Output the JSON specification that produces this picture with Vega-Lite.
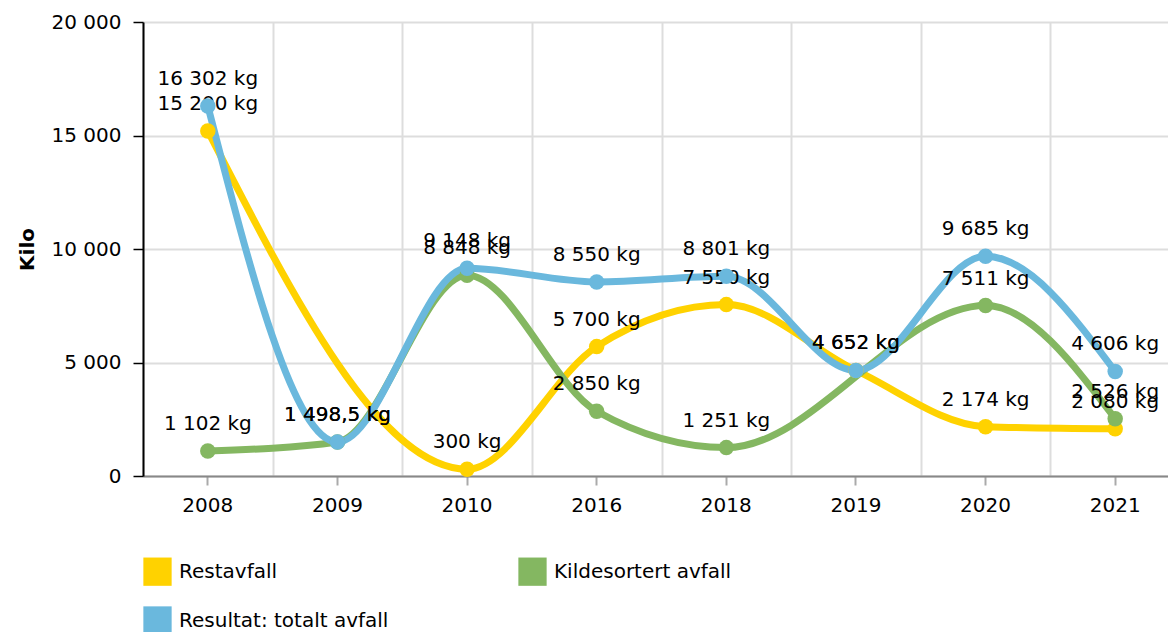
{
  "$schema": "https://vega.github.io/schema/vega-lite/v6.json",
  "width": 1025,
  "height": 454,
  "autosize": {"type": "none"},
  "padding": {"left": 143, "top": 22, "right": 0, "bottom": 156},
  "background": "white",
  "config": {"font": "DejaVu Sans", "view": {"stroke": null}},
  "data": {
    "values": [
      {"year": "2008", "serie": "Restavfall", "value": 15200, "label": "15 200 kg"},
      {"year": "2010", "serie": "Restavfall", "value": 300, "label": "300 kg"},
      {"year": "2016", "serie": "Restavfall", "value": 5700, "label": "5 700 kg"},
      {"year": "2018", "serie": "Restavfall", "value": 7550, "label": "7 550 kg"},
      {"year": "2019", "serie": "Restavfall", "value": 4652, "label": "4 652 kg"},
      {"year": "2020", "serie": "Restavfall", "value": 2174, "label": "2 174 kg"},
      {"year": "2021", "serie": "Restavfall", "value": 2080, "label": "2 080 kg"},
      {"year": "2008", "serie": "Kildesortert avfall", "value": 1102, "label": "1 102 kg"},
      {"year": "2009", "serie": "Kildesortert avfall", "value": 1498.5, "label": "1 498,5 kg"},
      {"year": "2010", "serie": "Kildesortert avfall", "value": 8848, "label": "8 848 kg"},
      {"year": "2016", "serie": "Kildesortert avfall", "value": 2850, "label": "2 850 kg"},
      {"year": "2018", "serie": "Kildesortert avfall", "value": 1251, "label": "1 251 kg"},
      {"year": "2020", "serie": "Kildesortert avfall", "value": 7511, "label": "7 511 kg"},
      {"year": "2021", "serie": "Kildesortert avfall", "value": 2526, "label": "2 526 kg"},
      {"year": "2008", "serie": "Resultat: totalt avfall", "value": 16302, "label": "16 302 kg"},
      {"year": "2009", "serie": "Resultat: totalt avfall", "value": 1498.5, "label": "1 498,5 kg"},
      {"year": "2010", "serie": "Resultat: totalt avfall", "value": 9148, "label": "9 148 kg"},
      {"year": "2016", "serie": "Resultat: totalt avfall", "value": 8550, "label": "8 550 kg"},
      {"year": "2018", "serie": "Resultat: totalt avfall", "value": 8801, "label": "8 801 kg"},
      {"year": "2019", "serie": "Resultat: totalt avfall", "value": 4652, "label": "4 652 kg"},
      {"year": "2020", "serie": "Resultat: totalt avfall", "value": 9685, "label": "9 685 kg"},
      {"year": "2021", "serie": "Resultat: totalt avfall", "value": 4606, "label": "4 606 kg"}
    ]
  },
  "resolve": {"axis": {"x": "independent"}},
  "encoding": {
    "y": {
      "field": "value", "type": "quantitative",
      "scale": {"domain": [0, 20000]},
      "axis": {
        "values": [0, 5000, 10000, 15000, 20000],
        "labelExpr": "replace(format(datum.value, ','), ',', ' ')",
        "grid": true, "gridColor": "#dddddd", "gridWidth": 2,
        "domainColor": "#000000", "domainWidth": 2,
        "tickColor": "#000000", "tickWidth": 1.5, "tickSize": 10,
        "labelFontSize": 20, "labelColor": "#000000", "labelPadding": 12,
        "title": "Kilo", "titleFontSize": 20, "titleFontWeight": "bold", "titleColor": "#000000", "titlePadding": 14
      }
    },
    "color": {
      "field": "serie", "type": "nominal",
      "scale": {
        "domain": ["Restavfall", "Kildesortert avfall", "Resultat: totalt avfall"],
        "range": ["#FFD200", "#84B761", "#6AB8DD"]
      },
      "legend": {
        "title": null, "orient": "none", "legendX": 0, "legendY": 535,
        "direction": "horizontal", "columns": 2, "gridAlign": "each",
        "columnPadding": 129, "rowPadding": 20, "padding": 0,
        "symbolType": "square", "symbolSize": 800, "symbolStrokeWidth": 0,
        "labelFontSize": 20, "labelColor": "#000000", "labelOffset": 7, "labelLimit": 400,
        "encode": {
          "symbols": {
            "update": {
              "fill": {"scale": "color", "field": "value"},
              "stroke": {"value": "transparent"},
              "strokeWidth": {"value": 0},
              "opacity": {"value": 1}
            }
          }
        }
      }
    }
  },
  "layer": [
    {
      "transform": [{"filter": "datum.serie === 'Restavfall'"}],
      "mark": {"type": "line", "strokeWidth": 7, "interpolate": "monotone"},
      "encoding": {
        "x": {
          "field": "year", "type": "ordinal",
          "scale": {"type": "band", "range": [0, 1037], "paddingInner": 0, "paddingOuter": 0},
          "axis": {
            "orient": "bottom", "title": null, "grid": false, "labelAngle": 0,
            "domainColor": "#888888", "domainWidth": 2,
            "tickColor": "#aaaaaa", "tickWidth": 2, "tickSize": 9,
            "labelFontSize": 20, "labelColor": "#000000", "labelPadding": 10
          }
        }
      }
    },
    {
      "transform": [{"filter": "datum.serie === 'Kildesortert avfall'"}],
      "mark": {"type": "line", "strokeWidth": 7, "interpolate": "monotone"},
      "encoding": {
        "x": {"field": "year", "type": "ordinal", "axis": null}
      }
    },
    {
      "transform": [{"filter": "datum.serie === 'Resultat: totalt avfall'"}],
      "mark": {"type": "line", "strokeWidth": 7, "interpolate": "monotone"},
      "encoding": {
        "x": {
          "field": "year", "type": "ordinal",
          "axis": {
            "orient": "top", "title": null, "labels": false, "ticks": false, "domain": false,
            "grid": true, "tickBand": "extent", "gridColor": "#dddddd", "gridWidth": 2
          }
        }
      }
    },
    {
      "mark": {"type": "text", "dy": -27, "fontSize": 20, "baseline": "middle", "align": "center"},
      "encoding": {
        "x": {"field": "year", "type": "ordinal", "axis": null},
        "text": {"field": "label", "type": "nominal"},
        "color": {"value": "#000000"}
      }
    },
    {
      "mark": {"type": "point", "filled": true, "size": 240, "opacity": 1, "strokeWidth": 0},
      "encoding": {
        "x": {"field": "year", "type": "ordinal", "axis": null}
      }
    }
  ]
}
